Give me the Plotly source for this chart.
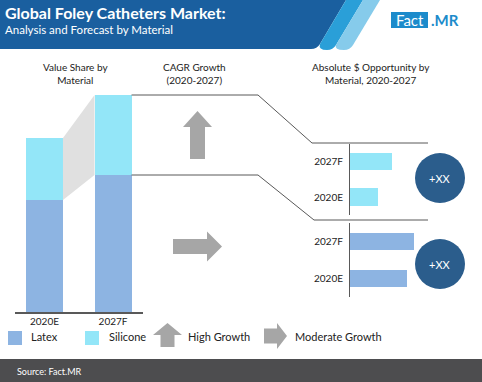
import plotly.graph_objects as go

W, H = 482, 382

# ---------------- data ----------------
years = ["2020E", "2027F"]
latex_share = [112, 137]
silicone_share = [62, 80]
silicone_opportunity = [28, 42]   # 2020E, 2027F
latex_opportunity = [57, 64]      # 2020E, 2027F
circle_labels = ["+XX", "+XX"]
legend_labels = ["Latex", "Silicone", "High Growth", "Moderate Growth"]

LATEX = "#8db4e2"
SILICONE = "#93e6f8"
GRAY = "#a6a6a6"
LINE = "#595959"
NAVY = "#2b5d8c"
FONT = "Lato"


def px(x):
    return x / W


def py(y):
    return 1 - y / H


# left stacked-bar axis geometry (pixels)
LX0, LX1 = 15.0, 142.5
LXR = [-0.43, 1.43]
LY0, LY1 = 312.0, 90.0
LYR = [0, 222]
BW = 0.54


def lx_to_px(v):
    return LX0 + (v - LXR[0]) / (LXR[1] - LXR[0]) * (LX1 - LX0)


def ly_to_px(v):
    return LY0 - (v - LYR[0]) / (LYR[1] - LYR[0]) * (LY0 - LY1)


fig = go.Figure()

xs = [0, 1]
totals = [a + b for a, b in zip(latex_share, silicone_share)]

# connecting polygon between silicone segments
fig.add_trace(go.Scatter(
    x=[xs[0] + BW / 2, xs[1] - BW / 2, xs[1] - BW / 2, xs[0] + BW / 2, xs[0] + BW / 2],
    y=[totals[0], totals[1], latex_share[1], latex_share[0], totals[0]],
    fill="toself", fillcolor="#e0e0e0", line=dict(width=0), mode="lines",
    hoverinfo="skip", showlegend=False, xaxis="x", yaxis="y"))

fig.add_trace(go.Bar(x=xs, y=latex_share, width=BW, marker=dict(color=LATEX, line=dict(width=0)),
                     name="Latex", showlegend=False, xaxis="x", yaxis="y"))
fig.add_trace(go.Bar(x=xs, y=silicone_share, width=BW, marker=dict(color=SILICONE, line=dict(width=0)),
                     name="Silicone", showlegend=False, xaxis="x", yaxis="y"))

# right horizontal bars
fig.add_trace(go.Bar(y=years, x=silicone_opportunity, orientation="h", width=0.49,
                     marker=dict(color=SILICONE, line=dict(width=0)), showlegend=False,
                     xaxis="x2", yaxis="y2"))
fig.add_trace(go.Bar(y=years, x=latex_opportunity, orientation="h", width=0.47,
                     marker=dict(color=LATEX, line=dict(width=0)), showlegend=False,
                     xaxis="x3", yaxis="y3"))

shapes = []
ann = []

# header
shapes.append(dict(type="path", xref="paper", yref="paper", line=dict(width=0), fillcolor="#1a5f9f",
                   path=f"M {px(0)},{py(0)} L {px(346)},{py(0)} L {px(320)},{py(44)} Q {px(317)},{py(49)} {px(311)},{py(49)} L {px(0)},{py(49)} Z"))
shapes.append(dict(type="path", xref="paper", yref="paper", line=dict(width=0), fillcolor="#2a9fd8",
                   path=f"M {px(346)},{py(0)} L {px(363)},{py(0)} L {px(336)},{py(45)} Q {px(333)},{py(50)} {px(327)},{py(50)} Q {px(318)},{py(50)} {px(320)},{py(44)} Z"))
shapes.append(dict(type="path", xref="paper", yref="paper", line=dict(width=0), fillcolor="#86cbeb",
                   path=f"M {px(363)},{py(0)} L {px(380)},{py(0)} L {px(353)},{py(45)} Q {px(350)},{py(50)} {px(344)},{py(50)} Q {px(334)},{py(50)} {px(336)},{py(45)} Z"))
ann.append(dict(text="<b>Global Foley Catheters Market:</b>", x=px(3), y=py(12), xanchor="left", yanchor="middle",
                font=dict(size=16, color="white", family=FONT)))
ann.append(dict(text="Analysis and Forecast by Material", x=px(3), y=py(29), xanchor="left", yanchor="middle",
                font=dict(size=11.5, color="white", family=FONT)))
# logo
shapes.append(dict(type="rect", xref="paper", yref="paper", x0=px(391), x1=px(428), y0=py(12), y1=py(28),
                   fillcolor="#1c8bcb", line=dict(width=0)))
ann.append(dict(text="Fact", x=px(409.5), y=py(20), xanchor="center", yanchor="middle",
                font=dict(size=15, color="white", family=FONT)))
ann.append(dict(text="<b>.MR</b>", x=px(429), y=py(20), xanchor="left", yanchor="middle",
                font=dict(size=15, color="#1c8bcb", family=FONT)))

# column headings
for txt, xc in [("Value Share by<br>Material", 75), ("CAGR Growth<br>(2020-2027)", 194),
                ("Absolute $ Opportunity by<br>Material, 2020-2027", 371)]:
    ann.append(dict(text=txt, x=px(xc), y=py(73), xanchor="center", yanchor="middle",
                    font=dict(size=10, color="#222222", family=FONT), showarrow=False))

# connector lines from bar tops to the right panels
top_y = ly_to_px(totals[1])
mid_y = ly_to_px(latex_share[1])
x_start = lx_to_px(xs[1] + BW / 2)
shapes.append(dict(type="path", xref="paper", yref="paper", line=dict(color=LINE, width=1),
                   path=f"M {px(x_start)},{py(top_y)} L {px(258)},{py(top_y)} L {px(312)},{py(143)} L {px(428)},{py(143)}"))
shapes.append(dict(type="path", xref="paper", yref="paper", line=dict(color=LINE, width=1),
                   path=f"M {px(x_start)},{py(mid_y)} L {px(258)},{py(mid_y)} L {px(314)},{py(220)} L {px(428)},{py(220)}"))


def up_arrow(cx, tip, hb, bot, hw, sw):
    return (f"M {px(cx)},{py(tip)} L {px(cx + hw)},{py(hb)} L {px(cx + sw)},{py(hb)} L {px(cx + sw)},{py(bot)} "
            f"L {px(cx - sw)},{py(bot)} L {px(cx - sw)},{py(hb)} L {px(cx - hw)},{py(hb)} Z")


def right_arrow(cy, tip, hb, left, hh, sh):
    return (f"M {px(tip)},{py(cy)} L {px(hb)},{py(cy - hh)} L {px(hb)},{py(cy - sh)} L {px(left)},{py(cy - sh)} "
            f"L {px(left)},{py(cy + sh)} L {px(hb)},{py(cy + sh)} L {px(hb)},{py(cy + hh)} Z")


shapes.append(dict(type="path", xref="paper", yref="paper", line=dict(width=0), fillcolor=GRAY,
                   path=up_arrow(197.5, 111, 127, 159, 14.5, 7.5)))
shapes.append(dict(type="path", xref="paper", yref="paper", line=dict(width=0), fillcolor=GRAY,
                   path=right_arrow(246.5, 222, 207, 173, 15, 7.5)))

# circles
for cy, lab in zip([178, 264], circle_labels):
    shapes.append(dict(type="circle", xref="paper", yref="paper", x0=px(415), x1=px(465), y0=py(cy - 25), y1=py(cy + 25),
                       fillcolor=NAVY, line=dict(width=0)))
    ann.append(dict(text=lab, x=px(440), y=py(cy), xanchor="center", yanchor="middle",
                    font=dict(size=11, color="white", family=FONT)))

# legend
shapes.append(dict(type="rect", xref="paper", yref="paper", x0=px(8), x1=px(22), y0=py(331), y1=py(345),
                   fillcolor=LATEX, line=dict(width=0)))
shapes.append(dict(type="rect", xref="paper", yref="paper", x0=px(85), x1=px(99), y0=py(331), y1=py(345),
                   fillcolor=SILICONE, line=dict(width=0)))
shapes.append(dict(type="path", xref="paper", yref="paper", line=dict(width=0), fillcolor=GRAY,
                   path=up_arrow(167.5, 323, 335, 347, 14.5, 7)))
shapes.append(dict(type="path", xref="paper", yref="paper", line=dict(width=0), fillcolor=GRAY,
                   path=right_arrow(336, 287, 277, 264, 13, 7.5)))
for txt, xl in zip(legend_labels, [29, 107, 186, 293]):
    ann.append(dict(text=txt, x=px(xl), y=py(336), xanchor="left", yanchor="middle",
                    font=dict(size=11, color="#222222", family=FONT)))

# footer
shapes.append(dict(type="rect", xref="paper", yref="paper", x0=0, x1=1, y0=0, y1=py(359),
                   fillcolor="#4d4d4f", line=dict(width=0)))
ann.append(dict(text="Source: Fact.MR", x=px(15), y=py(371), xanchor="left", yanchor="middle",
                font=dict(size=9, color="white", family=FONT)))

for a in ann:
    a.setdefault("showarrow", False)
    a["xref"] = "paper"
    a["yref"] = "paper"

tickfont = dict(size=10, color="#222222", family=FONT)

fig.update_layout(
    width=W, height=H, margin=dict(l=0, r=0, t=0, b=0),
    paper_bgcolor="white", plot_bgcolor="white",
    barmode="stack", showlegend=False,
    shapes=shapes, annotations=ann,
    xaxis=dict(domain=[px(LX0), px(LX1)], range=LXR, tickvals=xs, ticktext=years, showgrid=False,
               zeroline=False, showline=True, linecolor=LINE, linewidth=1.5, ticks="", tickfont=tickfont,
               fixedrange=True, ticklabelstandoff=-1),
    yaxis=dict(domain=[py(LY0), py(LY1)], range=LYR, visible=False, fixedrange=True),
    xaxis2=dict(domain=[px(350), px(430)], range=[0, 80], visible=False, anchor="y2"),
    yaxis2=dict(domain=[py(214.75), py(143.75)], anchor="x2", type="category", categoryorder="array",
                categoryarray=years, showline=True, linecolor=LINE, linewidth=1, ticks="", showgrid=False,
                tickfont=tickfont, ticklabelstandoff=4),
    xaxis3=dict(domain=[px(350), px(430)], range=[0, 80], visible=False, anchor="y3"),
    yaxis3=dict(domain=[py(297), py(223)], anchor="x3", type="category", categoryorder="array",
                categoryarray=years, showline=True, linecolor=LINE, linewidth=1, ticks="", showgrid=False,
                tickfont=tickfont, ticklabelstandoff=4),
)

fig.write_html("out.html", config={"displayModeBar": False},
               post_script="document.body.style.margin='0';document.body.style.overflow='hidden';")
